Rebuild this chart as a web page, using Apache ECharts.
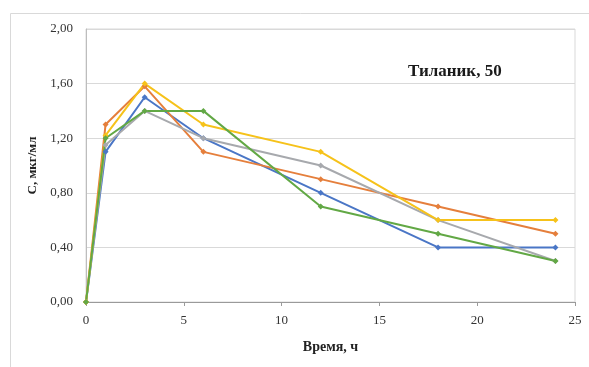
<!DOCTYPE html>
<html><head><meta charset="utf-8">
<script src="https://cdn.jsdelivr.net/npm/echarts@6/dist/echarts.min.js"></script>
<style>html,body{margin:0;padding:0;background:#fff}#c{width:589px;height:367px}</style>
</head><body><div id="c"></div>
<script>
const hours = [0, 1, 3, 6, 12, 18, 24];
const blue   = [0, 1.10, 1.50, 1.20, 0.80, 0.40, 0.40];
const orange = [0, 1.30, 1.58, 1.10, 0.90, 0.70, 0.50];
const gray   = [0, 1.15, 1.40, 1.20, 1.00, 0.60, 0.30];
const yellow = [0, 1.22, 1.60, 1.30, 1.10, 0.60, 0.60];
const green  = [0, 1.20, 1.40, 1.40, 0.70, 0.50, 0.30];
const seriesDefs = [
  ['1', blue, '#4a76c6'],
  ['2', orange, '#e57f3c'],
  ['3', gray, '#a7a9ad'],
  ['4', yellow, '#f6c21a'],
  ['5', green, '#62a845']
];
const chart = echarts.init(document.getElementById('c'), null, {renderer: 'canvas'});
const font = '"Liberation Serif", "Times New Roman", serif';
chart.setOption({
  animation: false,
  graphic: [
    {type: 'rect', shape: {x: 10.5, y: 13.5, width: 600, height: 400}, style: {fill: 'none', stroke: '#d9d9d9', lineWidth: 1}},
    {type: 'text', left: 408, top: 63, style: {text: 'Тиланик, 50', font: 'bold 17px ' + font, fill: '#1a1a1a'}}
  ],
  grid: {left: 86, right: 14, top: 29, bottom: 65, show: true, borderColor: '#d9d9d9', borderWidth: 1},
  xAxis: {
    type: 'value', min: 0, max: 25, interval: 5,
    name: 'Время, ч', nameLocation: 'middle', nameGap: 38,
    nameTextStyle: {fontFamily: font, fontWeight: 'bold', fontSize: 14, color: '#222'},
    axisLine: {show: true, lineStyle: {color: '#9a9a9a'}},
    axisTick: {show: true, length: 4, lineStyle: {color: '#9a9a9a'}},
    axisLabel: {fontFamily: font, fontSize: 13, color: '#333', margin: 12},
    splitLine: {show: false}
  },
  yAxis: {
    type: 'value', min: 0, max: 2, interval: 0.4,
    name: 'C, мкг/мл', nameLocation: 'middle', nameGap: 41,
    nameTextStyle: {fontFamily: font, fontWeight: 'bold', fontSize: 13, color: '#222'},
    axisLine: {show: true, lineStyle: {color: '#bdbdbd'}},
    axisTick: {show: false},
    axisLabel: {fontFamily: font, fontSize: 13, color: '#333', margin: 13,
      formatter: v => v.toFixed(2).replace('.', ',')},
    splitLine: {show: true, lineStyle: {color: '#d9d9d9', width: 1}}
  },
  series: seriesDefs.map(([name, vals, color]) => ({
    name, type: 'line',
    data: hours.map((h, i) => [h, vals[i]]),
    symbol: 'diamond', symbolSize: 6, showSymbol: true,
    lineStyle: {color, width: 2},
    itemStyle: {color}
  }))
});
</script></body></html>
